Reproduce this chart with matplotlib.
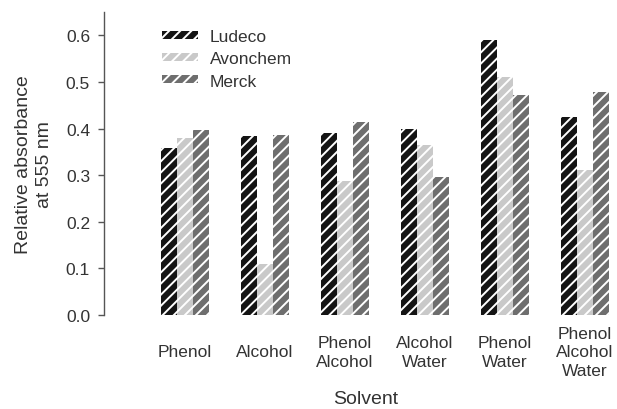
import matplotlib
matplotlib.use("Agg")
import matplotlib.pyplot as plt
import numpy as np

plt.rcParams['font.family'] = ['Liberation Sans', 'DejaVu Sans']
plt.rcParams['hatch.linewidth'] = 1.4

solvents = ["Phenol", "Alcohol", "Phenol\nAlcohol", "Alcohol\nWater",
            "Phenol\nWater", "Phenol\nAlcohol\nWater"]
suppliers = ["Ludeco", "Avonchem", "Merck"]
ludeco = [0.358, 0.385, 0.390, 0.400, 0.590, 0.425]
avonchem = [0.380, 0.110, 0.287, 0.365, 0.510, 0.310]
merck = [0.397, 0.387, 0.415, 0.297, 0.473, 0.478]
yticks = [0.0, 0.1, 0.2, 0.3, 0.4, 0.5, 0.6]

colors = ["#141414", "#c9c9c9", "#6e6e6e"]
text_color = "#333333"

fig = plt.figure(figsize=(6.17, 4.10), dpi=100)
ax = fig.add_axes([104 / 617, (410 - 316) / 410, 1 - 104 / 617, (316 - 13) / 410])

x = np.arange(len(solvents))
width = 0.19
offsets = [-0.2, 0.0, 0.2]
for vals, name, col, off in zip([ludeco, avonchem, merck], suppliers, colors, offsets):
    ax.bar(x + off, vals, width, color=col, edgecolor="white", linewidth=0,
           hatch="///", label=name)

ax.set_xlim(-1.0125, 5.4)
ax.set_ylim(0, 0.65)
ax.set_yticks(yticks)
ax.set_yticklabels([f"{v:.1f}" for v in yticks])

for s in ["top", "right", "bottom"]:
    ax.spines[s].set_visible(False)
ax.spines["left"].set_color("#555555")
ax.spines["left"].set_linewidth(1.0)
ax.spines["left"].set_bounds(0, 0.65)

ax.tick_params(axis="y", length=4, width=1, color="#555555", pad=6,
               labelsize=12.5, labelcolor=text_color)
ax.set_xticks(x)
ax.set_xticklabels(solvents, va="center", linespacing=1.3)
ax.tick_params(axis="x", length=0, pad=26.5, labelsize=12.5, labelcolor=text_color)

ax.set_ylabel("Relative absorbance\nat 555 nm", fontsize=14, color=text_color,
              labelpad=9, linespacing=1.35)
fig.text(366 / 617, 1 - 400 / 410, "Solvent", ha="center", va="center",
         fontsize=14, color=text_color)

leg = ax.legend(loc="upper left", bbox_to_anchor=((162 - 104) / 513, 1 - (30 - 13) / 303),
                frameon=False, fontsize=12.5, handlelength=2.1, handleheight=0.35,
                handletextpad=0.65, labelspacing=0.42, borderpad=0, borderaxespad=0)
for t in leg.get_texts():
    t.set_color(text_color)

fig.savefig("out.png", dpi=100)
